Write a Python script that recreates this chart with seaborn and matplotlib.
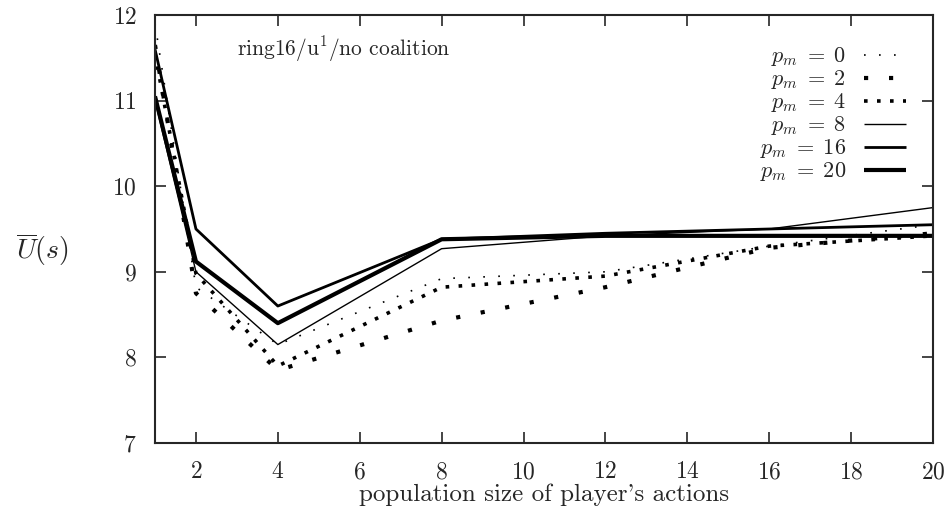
import matplotlib
matplotlib.use("Agg")
import matplotlib.pyplot as plt
import seaborn as sns
import pandas as pd

x = [1, 2, 4, 8, 12, 16, 20]
p0 = [11.9, 8.82, 8.15, 8.92, 9.0, 9.3, 9.55]
p2 = [11.65, 8.75, 7.85, 8.43, 8.82, 9.28, 9.45]
p4 = [11.55, 8.98, 7.9, 8.82, 8.95, 9.3, 9.42]
p8 = [11.0, 9.0, 8.15, 9.27, 9.42, 9.5, 9.75]
p16 = [11.6, 9.5, 8.6, 9.38, 9.45, 9.5, 9.55]
p20 = [11.05, 9.12, 8.4, 9.38, 9.42, 9.42, 9.42]
labels = [r"$p_m\;=\;0$", r"$p_m\;=\;2$", r"$p_m\;=\;4$", r"$p_m\;=\;8$", r"$p_m\;=\;16$", r"$p_m\;=\;20$"]
xticks = [2, 4, 6, 8, 10, 12, 14, 16, 18, 20]
yticks = [7, 8, 9, 10, 11, 12]

sns.set_style("ticks")
plt.rcParams["font.family"] = ["cmr10", "DejaVu Serif"]
plt.rcParams["mathtext.fontset"] = "cm"
plt.rcParams["axes.formatter.use_mathtext"] = True

fig = plt.figure(figsize=(9.47, 5.29), dpi=100)
ax = fig.add_axes([155/947, 1-443/529, (933-155)/947, (443-15)/529])

series = [p0, p2, p4, p8, p16, p20]
styles = [
    dict(ls=(0, (1, 8)), lw=1.2),
    dict(ls=(0, (1, 5)), lw=3.0),
    dict(ls=(0, (1, 2.6)), lw=2.6),
    dict(ls="-", lw=1.0),
    dict(ls="-", lw=2.0),
    dict(ls="-", lw=3.0),
]
for ys, lab, st in zip(series, labels, styles):
    df = pd.DataFrame({"x": x, "y": ys})
    sns.lineplot(data=df, x="x", y="y", ax=ax, color="black", label=lab,
                 linestyle=st["ls"], linewidth=st["lw"], dash_capstyle="butt",
                 solid_capstyle="butt")

ax.set_xlim(1, 20)
ax.set_ylim(7, 12)
ax.set_xticks(xticks)
ax.set_yticks(yticks)
ax.tick_params(direction="in", length=8, width=1.2, top=True, right=True,
               labelsize=17, pad=13)
for s in ax.spines.values():
    s.set_linewidth(1.5)
    s.set_visible(True)
ax.set_xlabel("population size of player's actions", fontsize=18, labelpad=0)
ax.set_ylabel("")
fig.text(42/947, 1-250/529, r"$\overline{U}(s)$", fontsize=20, ha="center", va="center")
ax.text(0.105, 0.92, r"ring16/u$^{1}$/no coalition", transform=ax.transAxes,
        fontsize=15.5, ha="left", va="center")

leg = ax.legend(loc="upper right", bbox_to_anchor=(0.98, 0.955), frameon=False,
                markerfirst=False, fontsize=16, handlelength=1.9,
                labelspacing=0.0, handletextpad=0.8, borderpad=0)

fig.savefig("out.png", dpi=100)
